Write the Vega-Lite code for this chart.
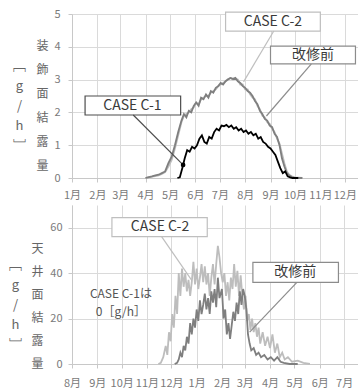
{
  "$schema": "https://vega.github.io/schema/vega-lite/v6.json",
  "padding": {"left": 8, "top": 8, "right": 0, "bottom": 0},
  "config": {
    "font": "Noto Sans CJK JP",
    "view": {"stroke": null},
    "axis": {
      "labelFontSize": 11,
      "labelColor": "#7a7a7a",
      "gridColor": "#dadada",
      "gridWidth": 1,
      "domainColor": "#c8c8c8",
      "tickColor": "#c8c8c8",
      "tickSize": 4,
      "labelOverlap": false
    },
    "axisX": {"labelOverlap": false, "labelFlush": false, "labelBound": false, "format": "%-m月"}
  },
  "datasets": {
    "top": [
      {"s":"CASE C-2","d":"2019/04/01","v":0},{"s":"CASE C-2","d":"2019/04/05","v":0.02},{"s":"CASE C-2","d":"2019/04/09","v":0.04},{"s":"CASE C-2","d":"2019/04/13","v":0.06},{"s":"CASE C-2","d":"2019/04/17","v":0.08},{"s":"CASE C-2","d":"2019/04/21","v":0.12},{"s":"CASE C-2","d":"2019/04/25","v":0.18},{"s":"CASE C-2","d":"2019/04/29","v":0.35},{"s":"CASE C-2","d":"2019/05/03","v":0.55},{"s":"CASE C-2","d":"2019/05/07","v":0.9},{"s":"CASE C-2","d":"2019/05/11","v":1.3},{"s":"CASE C-2","d":"2019/05/15","v":1.7},{"s":"CASE C-2","d":"2019/05/18","v":1.9},{"s":"CASE C-2","d":"2019/05/21","v":1.95},{"s":"CASE C-2","d":"2019/05/24","v":2.0},{"s":"CASE C-2","d":"2019/05/27","v":2.1},{"s":"CASE C-2","d":"2019/05/30","v":2.15},{"s":"CASE C-2","d":"2019/06/02","v":2.3},{"s":"CASE C-2","d":"2019/06/05","v":2.25},{"s":"CASE C-2","d":"2019/06/08","v":2.4},{"s":"CASE C-2","d":"2019/06/11","v":2.45},{"s":"CASE C-2","d":"2019/06/14","v":2.5},{"s":"CASE C-2","d":"2019/06/17","v":2.5},{"s":"CASE C-2","d":"2019/06/20","v":2.6},{"s":"CASE C-2","d":"2019/06/23","v":2.65},{"s":"CASE C-2","d":"2019/06/26","v":2.7},{"s":"CASE C-2","d":"2019/06/29","v":2.8},{"s":"CASE C-2","d":"2019/07/02","v":2.85},{"s":"CASE C-2","d":"2019/07/05","v":2.9},{"s":"CASE C-2","d":"2019/07/08","v":2.95},{"s":"CASE C-2","d":"2019/07/11","v":3.02},{"s":"CASE C-2","d":"2019/07/14","v":3.05},{"s":"CASE C-2","d":"2019/07/17","v":3.0},{"s":"CASE C-2","d":"2019/07/20","v":3.02},{"s":"CASE C-2","d":"2019/07/23","v":3.0},{"s":"CASE C-2","d":"2019/07/26","v":2.85},{"s":"CASE C-2","d":"2019/07/29","v":2.85},{"s":"CASE C-2","d":"2019/08/01","v":2.7},{"s":"CASE C-2","d":"2019/08/04","v":2.7},{"s":"CASE C-2","d":"2019/08/07","v":2.55},{"s":"CASE C-2","d":"2019/08/10","v":2.45},{"s":"CASE C-2","d":"2019/08/13","v":2.4},{"s":"CASE C-2","d":"2019/08/16","v":2.2},{"s":"CASE C-2","d":"2019/08/19","v":2.1},{"s":"CASE C-2","d":"2019/08/22","v":1.9},{"s":"CASE C-2","d":"2019/08/25","v":1.85},{"s":"CASE C-2","d":"2019/08/28","v":1.7},{"s":"CASE C-2","d":"2019/08/31","v":1.65},{"s":"CASE C-2","d":"2019/09/03","v":1.5},{"s":"CASE C-2","d":"2019/09/06","v":1.4},{"s":"CASE C-2","d":"2019/09/09","v":1.2},{"s":"CASE C-2","d":"2019/09/12","v":1.05},{"s":"CASE C-2","d":"2019/09/15","v":0.75},{"s":"CASE C-2","d":"2019/09/18","v":0.45},{"s":"CASE C-2","d":"2019/09/21","v":0.2},{"s":"CASE C-2","d":"2019/09/24","v":0.1},{"s":"CASE C-2","d":"2019/09/27","v":0.05},{"s":"CASE C-2","d":"2019/10/01","v":0.02},{"s":"CASE C-2","d":"2019/10/10","v":0},
      {"s":"改修前","d":"2019/04/01","v":0},{"s":"改修前","d":"2019/04/05","v":0.03},{"s":"改修前","d":"2019/04/09","v":0.05},{"s":"改修前","d":"2019/04/13","v":0.08},{"s":"改修前","d":"2019/04/17","v":0.1},{"s":"改修前","d":"2019/04/21","v":0.15},{"s":"改修前","d":"2019/04/25","v":0.2},{"s":"改修前","d":"2019/04/29","v":0.45},{"s":"改修前","d":"2019/05/03","v":0.65},{"s":"改修前","d":"2019/05/07","v":1.0},{"s":"改修前","d":"2019/05/11","v":1.4},{"s":"改修前","d":"2019/05/15","v":1.75},{"s":"改修前","d":"2019/05/18","v":1.95},{"s":"改修前","d":"2019/05/21","v":1.85},{"s":"改修前","d":"2019/05/24","v":2.05},{"s":"改修前","d":"2019/05/27","v":2.0},{"s":"改修前","d":"2019/05/30","v":2.2},{"s":"改修前","d":"2019/06/02","v":2.3},{"s":"改修前","d":"2019/06/05","v":2.2},{"s":"改修前","d":"2019/06/08","v":2.45},{"s":"改修前","d":"2019/06/11","v":2.4},{"s":"改修前","d":"2019/06/14","v":2.55},{"s":"改修前","d":"2019/06/17","v":2.45},{"s":"改修前","d":"2019/06/20","v":2.65},{"s":"改修前","d":"2019/06/23","v":2.6},{"s":"改修前","d":"2019/06/26","v":2.75},{"s":"改修前","d":"2019/06/29","v":2.8},{"s":"改修前","d":"2019/07/02","v":2.9},{"s":"改修前","d":"2019/07/05","v":2.85},{"s":"改修前","d":"2019/07/08","v":2.95},{"s":"改修前","d":"2019/07/11","v":3.0},{"s":"改修前","d":"2019/07/14","v":3.05},{"s":"改修前","d":"2019/07/17","v":3.02},{"s":"改修前","d":"2019/07/20","v":3.05},{"s":"改修前","d":"2019/07/23","v":2.95},{"s":"改修前","d":"2019/07/26","v":2.9},{"s":"改修前","d":"2019/07/29","v":2.8},{"s":"改修前","d":"2019/08/01","v":2.75},{"s":"改修前","d":"2019/08/04","v":2.65},{"s":"改修前","d":"2019/08/07","v":2.6},{"s":"改修前","d":"2019/08/10","v":2.5},{"s":"改修前","d":"2019/08/13","v":2.35},{"s":"改修前","d":"2019/08/16","v":2.25},{"s":"改修前","d":"2019/08/19","v":2.05},{"s":"改修前","d":"2019/08/22","v":1.95},{"s":"改修前","d":"2019/08/25","v":1.8},{"s":"改修前","d":"2019/08/28","v":1.75},{"s":"改修前","d":"2019/08/31","v":1.6},{"s":"改修前","d":"2019/09/03","v":1.55},{"s":"改修前","d":"2019/09/06","v":1.35},{"s":"改修前","d":"2019/09/09","v":1.25},{"s":"改修前","d":"2019/09/12","v":1.0},{"s":"改修前","d":"2019/09/15","v":0.6},{"s":"改修前","d":"2019/09/18","v":0.35},{"s":"改修前","d":"2019/09/21","v":0.15},{"s":"改修前","d":"2019/09/24","v":0.08},{"s":"改修前","d":"2019/09/27","v":0.03},{"s":"改修前","d":"2019/10/01","v":0},{"s":"改修前","d":"2019/10/10","v":0},
      {"s":"CASE C-1","d":"2019/05/10","v":0},{"s":"CASE C-1","d":"2019/05/13","v":0.02},{"s":"CASE C-1","d":"2019/05/16","v":0.3},{"s":"CASE C-1","d":"2019/05/19","v":0.6},{"s":"CASE C-1","d":"2019/05/22","v":0.85},{"s":"CASE C-1","d":"2019/05/25","v":0.8},{"s":"CASE C-1","d":"2019/05/28","v":0.95},{"s":"CASE C-1","d":"2019/05/31","v":0.9},{"s":"CASE C-1","d":"2019/06/03","v":1.0},{"s":"CASE C-1","d":"2019/06/06","v":1.2},{"s":"CASE C-1","d":"2019/06/09","v":1.3},{"s":"CASE C-1","d":"2019/06/12","v":1.1},{"s":"CASE C-1","d":"2019/06/15","v":1.05},{"s":"CASE C-1","d":"2019/06/18","v":1.25},{"s":"CASE C-1","d":"2019/06/21","v":1.2},{"s":"CASE C-1","d":"2019/06/24","v":1.4},{"s":"CASE C-1","d":"2019/06/27","v":1.5},{"s":"CASE C-1","d":"2019/06/30","v":1.45},{"s":"CASE C-1","d":"2019/07/03","v":1.6},{"s":"CASE C-1","d":"2019/07/06","v":1.58},{"s":"CASE C-1","d":"2019/07/09","v":1.62},{"s":"CASE C-1","d":"2019/07/12","v":1.55},{"s":"CASE C-1","d":"2019/07/15","v":1.6},{"s":"CASE C-1","d":"2019/07/18","v":1.5},{"s":"CASE C-1","d":"2019/07/21","v":1.55},{"s":"CASE C-1","d":"2019/07/24","v":1.45},{"s":"CASE C-1","d":"2019/07/27","v":1.5},{"s":"CASE C-1","d":"2019/07/30","v":1.4},{"s":"CASE C-1","d":"2019/08/02","v":1.45},{"s":"CASE C-1","d":"2019/08/05","v":1.35},{"s":"CASE C-1","d":"2019/08/08","v":1.4},{"s":"CASE C-1","d":"2019/08/11","v":1.3},{"s":"CASE C-1","d":"2019/08/14","v":1.35},{"s":"CASE C-1","d":"2019/08/17","v":1.2},{"s":"CASE C-1","d":"2019/08/20","v":1.25},{"s":"CASE C-1","d":"2019/08/23","v":1.1},{"s":"CASE C-1","d":"2019/08/26","v":1.05},{"s":"CASE C-1","d":"2019/08/29","v":0.95},{"s":"CASE C-1","d":"2019/09/01","v":0.9},{"s":"CASE C-1","d":"2019/09/04","v":0.8},{"s":"CASE C-1","d":"2019/09/07","v":0.7},{"s":"CASE C-1","d":"2019/09/10","v":0.5},{"s":"CASE C-1","d":"2019/09/13","v":0.3},{"s":"CASE C-1","d":"2019/09/16","v":0.15},{"s":"CASE C-1","d":"2019/09/19","v":0.2},{"s":"CASE C-1","d":"2019/09/22","v":0.05},{"s":"CASE C-1","d":"2019/09/25","v":0.02},{"s":"CASE C-1","d":"2019/09/28","v":0},{"s":"CASE C-1","d":"2019/10/05","v":0}
    ],
    "topAnn": [
      {"t":"CASE C-1","bx1":"2019/01/17","bx2":"2019/05/14","by1":1.92,"by2":2.5,"tx":"2019/03/16","ty":2.21,"lx1":"2019/03/17","ly1":1.92,"lx2":"2019/05/17","ly2":0.4},
      {"t":"CASE C-2","bx1":"2019/07/08","bx2":"2019/11/01","by1":4.48,"by2":5.06,"tx":"2019/09/04","ty":4.77,"lx1":"2019/09/05","ly1":4.48,"lx2":"2019/07/30","ly2":2.93},
      {"t":"改修前","bx1":"2019/09/01","bx2":"2019/12/14","by1":3.48,"by2":4.02,"tx":"2019/10/23","ty":3.75,"lx1":"2019/10/21","ly1":3.48,"lx2":"2019/08/27","ly2":1.89}
    ],
    "bottom": [
      {"s":"CASE C-2","d":"2018/11/15","v":0},{"s":"CASE C-2","d":"2018/11/18","v":0.5},{"s":"CASE C-2","d":"2018/11/21","v":3},{"s":"CASE C-2","d":"2018/11/24","v":8},{"s":"CASE C-2","d":"2018/11/26","v":4},{"s":"CASE C-2","d":"2018/11/28","v":14},{"s":"CASE C-2","d":"2018/11/30","v":10},{"s":"CASE C-2","d":"2018/12/02","v":22},{"s":"CASE C-2","d":"2018/12/04","v":16},{"s":"CASE C-2","d":"2018/12/06","v":30},{"s":"CASE C-2","d":"2018/12/08","v":22},{"s":"CASE C-2","d":"2018/12/10","v":40},{"s":"CASE C-2","d":"2018/12/12","v":30},{"s":"CASE C-2","d":"2018/12/14","v":42},{"s":"CASE C-2","d":"2018/12/16","v":34},{"s":"CASE C-2","d":"2018/12/18","v":40},{"s":"CASE C-2","d":"2018/12/20","v":32},{"s":"CASE C-2","d":"2018/12/22","v":37},{"s":"CASE C-2","d":"2018/12/24","v":30},{"s":"CASE C-2","d":"2018/12/26","v":36},{"s":"CASE C-2","d":"2018/12/28","v":45},{"s":"CASE C-2","d":"2018/12/30","v":35},{"s":"CASE C-2","d":"2019/01/01","v":42},{"s":"CASE C-2","d":"2019/01/03","v":33},{"s":"CASE C-2","d":"2019/01/05","v":38},{"s":"CASE C-2","d":"2019/01/07","v":44},{"s":"CASE C-2","d":"2019/01/09","v":36},{"s":"CASE C-2","d":"2019/01/11","v":43},{"s":"CASE C-2","d":"2019/01/13","v":35},{"s":"CASE C-2","d":"2019/01/15","v":40},{"s":"CASE C-2","d":"2019/01/17","v":30},{"s":"CASE C-2","d":"2019/01/19","v":38},{"s":"CASE C-2","d":"2019/01/21","v":44},{"s":"CASE C-2","d":"2019/01/23","v":35},{"s":"CASE C-2","d":"2019/01/25","v":44},{"s":"CASE C-2","d":"2019/01/27","v":52},{"s":"CASE C-2","d":"2019/01/29","v":47},{"s":"CASE C-2","d":"2019/01/31","v":40},{"s":"CASE C-2","d":"2019/02/02","v":36},{"s":"CASE C-2","d":"2019/02/04","v":40},{"s":"CASE C-2","d":"2019/02/06","v":30},{"s":"CASE C-2","d":"2019/02/08","v":36},{"s":"CASE C-2","d":"2019/02/10","v":28},{"s":"CASE C-2","d":"2019/02/12","v":38},{"s":"CASE C-2","d":"2019/02/14","v":33},{"s":"CASE C-2","d":"2019/02/16","v":44},{"s":"CASE C-2","d":"2019/02/18","v":34},{"s":"CASE C-2","d":"2019/02/20","v":41},{"s":"CASE C-2","d":"2019/02/22","v":30},{"s":"CASE C-2","d":"2019/02/24","v":39},{"s":"CASE C-2","d":"2019/02/26","v":30},{"s":"CASE C-2","d":"2019/02/28","v":24},{"s":"CASE C-2","d":"2019/03/02","v":30},{"s":"CASE C-2","d":"2019/03/04","v":19},{"s":"CASE C-2","d":"2019/03/06","v":22},{"s":"CASE C-2","d":"2019/03/08","v":15},{"s":"CASE C-2","d":"2019/03/10","v":20},{"s":"CASE C-2","d":"2019/03/12","v":14},{"s":"CASE C-2","d":"2019/03/14","v":18},{"s":"CASE C-2","d":"2019/03/16","v":12},{"s":"CASE C-2","d":"2019/03/18","v":16},{"s":"CASE C-2","d":"2019/03/20","v":9},{"s":"CASE C-2","d":"2019/03/23","v":14},{"s":"CASE C-2","d":"2019/03/26","v":8},{"s":"CASE C-2","d":"2019/03/29","v":12},{"s":"CASE C-2","d":"2019/04/01","v":7},{"s":"CASE C-2","d":"2019/04/04","v":13},{"s":"CASE C-2","d":"2019/04/07","v":5},{"s":"CASE C-2","d":"2019/04/10","v":9},{"s":"CASE C-2","d":"2019/04/13","v":3},{"s":"CASE C-2","d":"2019/04/16","v":5},{"s":"CASE C-2","d":"2019/04/19","v":2},{"s":"CASE C-2","d":"2019/04/23","v":3},{"s":"CASE C-2","d":"2019/04/28","v":1},{"s":"CASE C-2","d":"2019/05/05","v":1.5},{"s":"CASE C-2","d":"2019/05/12","v":0.5},{"s":"CASE C-2","d":"2019/05/20","v":0},
      {"s":"改修前","d":"2018/12/05","v":0},{"s":"改修前","d":"2018/12/08","v":0.5},{"s":"改修前","d":"2018/12/10","v":2},{"s":"改修前","d":"2018/12/12","v":5},{"s":"改修前","d":"2018/12/14","v":3},{"s":"改修前","d":"2018/12/16","v":8},{"s":"改修前","d":"2018/12/18","v":6},{"s":"改修前","d":"2018/12/20","v":12},{"s":"改修前","d":"2018/12/22","v":9},{"s":"改修前","d":"2018/12/24","v":18},{"s":"改修前","d":"2018/12/26","v":13},{"s":"改修前","d":"2018/12/28","v":20},{"s":"改修前","d":"2018/12/30","v":16},{"s":"改修前","d":"2019/01/01","v":24},{"s":"改修前","d":"2019/01/03","v":19},{"s":"改修前","d":"2019/01/05","v":28},{"s":"改修前","d":"2019/01/07","v":22},{"s":"改修前","d":"2019/01/09","v":26},{"s":"改修前","d":"2019/01/11","v":31},{"s":"改修前","d":"2019/01/13","v":24},{"s":"改修前","d":"2019/01/15","v":29},{"s":"改修前","d":"2019/01/17","v":22},{"s":"改修前","d":"2019/01/19","v":32},{"s":"改修前","d":"2019/01/21","v":27},{"s":"改修前","d":"2019/01/23","v":33},{"s":"改修前","d":"2019/01/25","v":25},{"s":"改修前","d":"2019/01/27","v":38},{"s":"改修前","d":"2019/01/29","v":29},{"s":"改修前","d":"2019/02/01","v":33},{"s":"改修前","d":"2019/02/03","v":20},{"s":"改修前","d":"2019/02/05","v":24},{"s":"改修前","d":"2019/02/07","v":13},{"s":"改修前","d":"2019/02/09","v":18},{"s":"改修前","d":"2019/02/11","v":11},{"s":"改修前","d":"2019/02/13","v":17},{"s":"改修前","d":"2019/02/15","v":23},{"s":"改修前","d":"2019/02/17","v":19},{"s":"改修前","d":"2019/02/19","v":27},{"s":"改修前","d":"2019/02/21","v":22},{"s":"改修前","d":"2019/02/23","v":32},{"s":"改修前","d":"2019/02/25","v":26},{"s":"改修前","d":"2019/02/27","v":33},{"s":"改修前","d":"2019/03/01","v":30},{"s":"改修前","d":"2019/03/03","v":24},{"s":"改修前","d":"2019/03/05","v":13},{"s":"改修前","d":"2019/03/07","v":9},{"s":"改修前","d":"2019/03/09","v":6},{"s":"改修前","d":"2019/03/12","v":7},{"s":"改修前","d":"2019/03/15","v":4},{"s":"改修前","d":"2019/03/18","v":5},{"s":"改修前","d":"2019/03/21","v":3},{"s":"改修前","d":"2019/03/25","v":4},{"s":"改修前","d":"2019/03/29","v":2},{"s":"改修前","d":"2019/04/02","v":3},{"s":"改修前","d":"2019/04/06","v":1.5},{"s":"改修前","d":"2019/04/10","v":3},{"s":"改修前","d":"2019/04/14","v":1},{"s":"改修前","d":"2019/04/18","v":0.5},{"s":"改修前","d":"2019/04/25","v":0},{"s":"改修前","d":"2019/05/05","v":0}
    ],
    "bottomAnn": [
      {"t":"CASE C-2","bx1":"2018/09/19","bx2":"2019/01/14","by1":56.1,"by2":64.4,"tx":"2018/11/17","ty":60.2,"lx1":"2018/11/19","ly1":56.1,"lx2":"2018/12/26","ly2":36.8},
      {"t":"改修前","bx1":"2019/03/11","bx2":"2019/06/24","by1":35.9,"by2":44.7,"tx":"2019/05/02","ty":40.3,"lx1":"2019/05/04","ly1":35.9,"lx2":"2019/03/07","ly2":14}
    ],
    "bottomNote": [
      {"t":"CASE C-1は\n0［g/h］","tx":"2018/09/30","ty":31}
    ]
  },
  "concat": [
    {
      "width": 290,
      "height": 164,
      "resolve": {"axis": {"y": "independent"}},
      "layer": [
        {
          "data": {"name": "top"},
          "mark": {"type": "line", "strokeWidth": 1.8},
          "encoding": {
            "x": {"field": "d", "type": "temporal",
              "scale": {"domain": [{"year": 2019, "month": 1, "date": 1}, {"year": 2019, "month": 12, "date": 22}]},
              "axis": {"title": null, "format": "%-m月", "labelOverlap": false, "labelFlush": false, "labelBound": false, "labelPadding": 7,
                "tickCount": {"interval": "month", "step": 1}}},
            "y": {"field": "v", "type": "quantitative", "scale": {"domain": [0, 5], "nice": false},
              "axis": {"values": [0, 1, 2, 3, 4, 5], "labelPadding": 8, "title": ["装", "飾", "面", "結", "露", "量"],
                "titleAngle": 0, "titleX": -30, "titleY": 26, "titleAlign": "center", "titleBaseline": "top",
                "titleLineHeight": 24, "titleFontSize": 12, "titleFontWeight": "normal", "titleColor": "#666666"}},
            "color": {"field": "s", "type": "nominal", "legend": null,
              "scale": {"domain": ["CASE C-2", "改修前", "CASE C-1"], "range": ["#bdbdbd", "#7f7f7f", "#000000"]}}
          }
        },
        {
          "data": {"name": "topAnn"},
          "mark": {"type": "rect", "fill": "#ffffff", "strokeWidth": 1.2},
          "encoding": {
            "x": {"field": "bx1", "type": "temporal", "title": null},
            "x2": {"field": "bx2"},
            "y": {"field": "by1", "type": "quantitative", "scale": {"domain": [0, 5], "nice": false},
              "axis": {"orient": "left", "labels": false, "ticks": false, "domain": false, "grid": false,
                "title": ["﹇", "g", "/", "h", "﹈"], "titleAngle": 0, "titleX": -53, "titleY": 45,
                "titleAlign": "center", "titleBaseline": "top", "titleLineHeight": 20, "titleFontSize": 13,
                "titleFontWeight": "normal", "titleColor": "#666666"}},
            "y2": {"field": "by2"},
            "stroke": {"field": "t", "type": "nominal", "legend": null,
              "scale": {"domain": ["CASE C-1", "CASE C-2", "改修前"], "range": ["#4d4d4d", "#bfbfbf", "#8c8c8c"]}}
          }
        },
        {
          "data": {"name": "topAnn"},
          "mark": {"type": "rule", "strokeWidth": 1.2},
          "encoding": {
            "x": {"field": "lx1", "type": "temporal", "title": null},
            "x2": {"field": "lx2"},
            "y": {"field": "ly1", "type": "quantitative", "scale": {"domain": [0, 5], "nice": false}, "axis": null},
            "y2": {"field": "ly2"},
            "stroke": {"field": "t", "type": "nominal", "legend": null,
              "scale": {"domain": ["CASE C-1", "CASE C-2", "改修前"], "range": ["#4d4d4d", "#bfbfbf", "#8c8c8c"]}}
          }
        },
        {
          "data": {"name": "topAnn"},
          "transform": [{"filter": "datum.t === 'CASE C-1'"}],
          "mark": {"type": "point", "filled": true, "color": "#000000", "size": 22, "opacity": 1},
          "encoding": {
            "x": {"field": "lx2", "type": "temporal", "title": null},
            "y": {"field": "ly2", "type": "quantitative", "scale": {"domain": [0, 5], "nice": false}, "axis": null}
          }
        },
        {
          "data": {"name": "topAnn"},
          "mark": {"type": "text", "fontSize": 14, "color": "#3a3a3a", "baseline": "middle", "align": "center"},
          "encoding": {
            "x": {"field": "tx", "type": "temporal", "title": null},
            "y": {"field": "ty", "type": "quantitative", "scale": {"domain": [0, 5], "nice": false}, "axis": null},
            "text": {"field": "t"}
          }
        }
      ]
    },
    {
      "width": 286,
      "height": 159,
      "resolve": {"axis": {"y": "independent"}},
      "layer": [
        {
          "data": {"name": "bottom"},
          "mark": {"type": "line", "strokeWidth": 1.8},
          "encoding": {
            "x": {"field": "d", "type": "temporal",
              "scale": {"domain": [{"year": 2018, "month": 8, "date": 1}, {"year": 2019, "month": 7, "date": 18}]},
              "axis": {"title": null, "format": "%-m月", "labelOverlap": false, "labelFlush": false, "labelBound": false, "labelPadding": 9,
                "tickCount": {"interval": "month", "step": 1}}},
            "y": {"field": "v", "type": "quantitative", "scale": {"domain": [0, 70], "nice": false},
              "axis": {"values": [0, 20, 40, 60], "labelPadding": 6, "title": ["天", "井", "面", "結", "露", "量"],
                "titleAngle": 0, "titleX": -35, "titleY": 38, "titleAlign": "center", "titleBaseline": "top",
                "titleLineHeight": 23, "titleFontSize": 12, "titleFontWeight": "normal", "titleColor": "#666666"}},
            "color": {"field": "s", "type": "nominal", "legend": null,
              "scale": {"domain": ["CASE C-2", "改修前"], "range": ["#c8c8c8", "#555555"]}}
          }
        },
        {
          "data": {"name": "bottomAnn"},
          "mark": {"type": "rect", "fill": "#ffffff", "strokeWidth": 1.2},
          "encoding": {
            "x": {"field": "bx1", "type": "temporal", "title": null},
            "x2": {"field": "bx2"},
            "y": {"field": "by1", "type": "quantitative", "scale": {"domain": [0, 70], "nice": false},
              "axis": {"orient": "left", "labels": false, "ticks": false, "domain": false, "grid": false,
                "title": ["﹇", "g", "/", "h", "﹈"], "titleAngle": 0, "titleX": -57, "titleY": 53,
                "titleAlign": "center", "titleBaseline": "top", "titleLineHeight": 20, "titleFontSize": 13,
                "titleFontWeight": "normal", "titleColor": "#666666"}},
            "y2": {"field": "by2"},
            "stroke": {"field": "t", "type": "nominal", "legend": null,
              "scale": {"domain": ["CASE C-2", "改修前"], "range": ["#bfbfbf", "#8c8c8c"]}}
          }
        },
        {
          "data": {"name": "bottomAnn"},
          "mark": {"type": "rule", "strokeWidth": 1.2},
          "encoding": {
            "x": {"field": "lx1", "type": "temporal", "title": null},
            "x2": {"field": "lx2"},
            "y": {"field": "ly1", "type": "quantitative", "scale": {"domain": [0, 70], "nice": false}, "axis": null},
            "y2": {"field": "ly2"},
            "stroke": {"field": "t", "type": "nominal", "legend": null,
              "scale": {"domain": ["CASE C-2", "改修前"], "range": ["#c8c8c8", "#6e6e6e"]}}
          }
        },
        {
          "data": {"name": "bottomAnn"},
          "mark": {"type": "text", "fontSize": 14, "color": "#3a3a3a", "baseline": "middle", "align": "center"},
          "encoding": {
            "x": {"field": "tx", "type": "temporal", "title": null},
            "y": {"field": "ty", "type": "quantitative", "scale": {"domain": [0, 70], "nice": false}, "axis": null},
            "text": {"field": "t"}
          }
        },
        {
          "data": {"name": "bottomNote"},
          "mark": {"type": "text", "fontSize": 12, "color": "#555555", "baseline": "middle", "align": "center", "lineBreak": "\n", "lineHeight": 18},
          "encoding": {
            "x": {"field": "tx", "type": "temporal", "title": null},
            "y": {"field": "ty", "type": "quantitative", "scale": {"domain": [0, 70], "nice": false}, "axis": null},
            "text": {"field": "t"}
          }
        }
      ]
    }
  ],
  "columns": 1,
  "align": "none",
  "spacing": 5
}
